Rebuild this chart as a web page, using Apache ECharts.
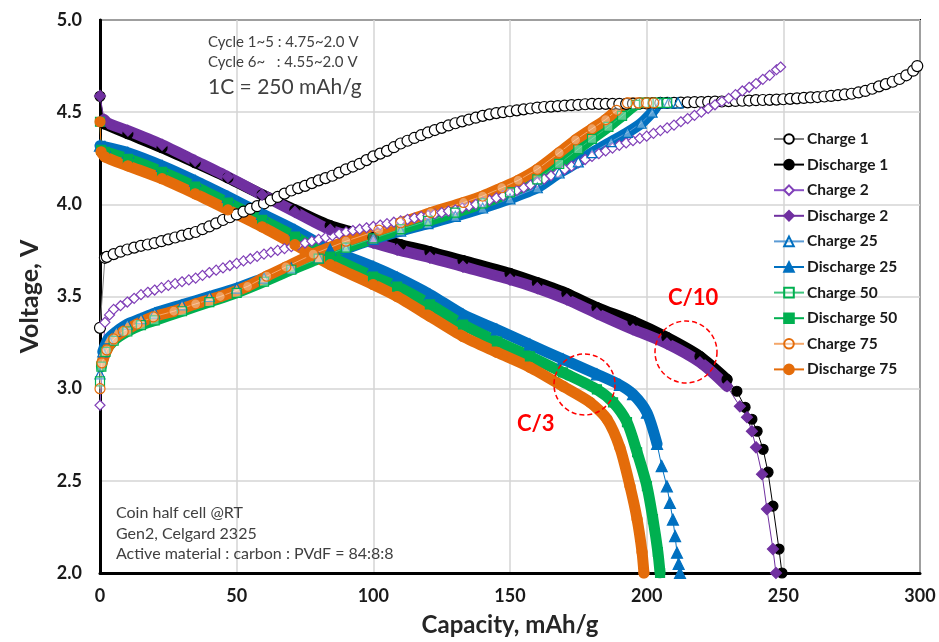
<!DOCTYPE html>
<html><head><meta charset="utf-8">
<script src="https://cdn.jsdelivr.net/npm/echarts@6/dist/echarts.min.js"></script>
<style>html,body{margin:0;padding:0;background:#fff}#c{width:939px;height:642px}</style>
</head><body><div id="c"></div>
<script>
// ---- data: [capacity mAh/g, voltage V] ----
const xTicks = [0, 50, 100, 150, 200, 250, 300];
const yTicks = [2.0, 2.5, 3.0, 3.5, 4.0, 4.5, 5.0];
const seriesNames = ['Charge 1','Discharge 1','Charge 2','Discharge 2','Charge 25','Discharge 25','Charge 50','Discharge 50','Charge 75','Discharge 75'];

const charge1 = [[0,3.33],[1.8,3.71],[2.5,3.715],[5,3.73],[7.5,3.743],[10,3.755],[12.5,3.765],[15,3.775],[17.5,3.782],[20,3.79],[22.5,3.80],[25,3.81],[27.5,3.82],[30,3.83],[32.5,3.84],[35,3.85],[37.5,3.865],[40,3.88],[42.5,3.897],[45,3.915],[47.5,3.93],[50,3.945],[52.5,3.96],[55,3.975],[57.5,3.99],[60,4.005],[62.5,4.022],[65,4.04],[67.5,4.058],[70,4.075],[72.5,4.088],[75,4.10],[77.5,4.115],[80,4.13],[82.5,4.142],[85,4.155],[87.5,4.172],[90,4.19],[92.5,4.205],[95,4.22],[97.5,4.24],[100,4.26],[102.5,4.275],[105,4.29],[107.5,4.31],[110,4.33],[112.5,4.345],[115,4.36],[117.5,4.375],[120,4.39],[122.5,4.403],[125,4.415],[127.5,4.428],[130,4.44],[132.5,4.45],[135,4.46],[137.5,4.47],[140,4.48],[142.5,4.488],[145,4.495],[147.5,4.50],[150,4.505],[152.5,4.51],[155,4.515],[157.5,4.52],[160,4.525],[162.5,4.528],[165,4.53],[167.5,4.533],[170,4.535],[172.5,4.538],[175,4.54],[177.5,4.543],[180,4.545],[182.5,4.545],[185,4.545],[187.5,4.545],[190,4.545],[192.5,4.545],[195,4.546],[197.5,4.547],[200,4.548],[202.5,4.549],[205,4.55],[207.5,4.55],[210,4.55],[212.5,4.552],[215,4.553],[217.5,4.554],[220,4.555],[222.5,4.556],[225,4.557],[227.5,4.558],[230,4.56],[232.5,4.561],[235,4.562],[237.5,4.563],[240,4.565],[242.5,4.566],[245,4.567],[247.5,4.568],[250,4.57],[252.5,4.572],[255,4.575],[257.5,4.577],[260,4.58],[262.5,4.582],[265,4.585],[267.5,4.588],[270,4.592],[272.5,4.596],[275,4.60],[277.5,4.607],[280,4.615],[282.5,4.627],[285,4.64],[287.5,4.652],[290,4.665],[292.5,4.68],[295,4.70],[297.5,4.725],[299,4.75]];
const discharge1 = [[0,4.586],[1.5,4.437],[10.2,4.383],[22.7,4.307],[34.8,4.226],[46.8,4.144],[59.3,4.052],[71.3,3.970],[84.2,3.884],[99.9,3.820],[110,3.781],[120.7,3.743],[132.8,3.695],[150,3.625],[160,3.575],[170.8,3.516],[181.8,3.440],[195,3.365],[207.4,3.278],[219.5,3.175],[229.4,3.050],[233,2.986],[236,2.899],[238.5,2.834],[240.4,2.769],[242.6,2.671],[244.4,2.547],[246.2,2.363],[248.4,2.130],[249.5,2.0]];
const charge2 = [[0,2.91],[1.8,3.36],[3.5,3.40],[5,3.43],[7.5,3.45],[10,3.47],[12.5,3.49],[15,3.51],[17.5,3.523],[20,3.535],[22.5,3.548],[25,3.56],[27.5,3.57],[30,3.58],[32.5,3.59],[35,3.60],[37.5,3.615],[40,3.63],[42.5,3.643],[45,3.655],[47.5,3.668],[50,3.68],[52.5,3.693],[55,3.705],[57.5,3.718],[60,3.73],[62.5,3.74],[65,3.75],[67.5,3.76],[70,3.77],[72.5,3.78],[75,3.79],[77.5,3.80],[80,3.81],[82.5,3.82],[85,3.83],[87.5,3.84],[90,3.85],[92.5,3.858],[95,3.865],[97.5,3.873],[100,3.88],[102.5,3.888],[105,3.895],[107.5,3.903],[110,3.91],[112.5,3.918],[115,3.925],[117.5,3.933],[120,3.94],[122.5,3.948],[125,3.955],[127.5,3.963],[130,3.97],[132.5,3.98],[135,3.99],[137.5,4.00],[140,4.01],[142.5,4.022],[145,4.035],[147.5,4.047],[150,4.06],[152.5,4.075],[155,4.09],[157.5,4.105],[160,4.12],[162.5,4.137],[165,4.155],[167.5,4.172],[170,4.19],[172.5,4.207],[175,4.225],[177.5,4.243],[180,4.26],[182.5,4.275],[185,4.29],[187.5,4.305],[190,4.32],[192.5,4.333],[195,4.345],[197.5,4.358],[200,4.37],[202.5,4.385],[205,4.40],[207.5,4.415],[210,4.43],[212.5,4.448],[215,4.465],[217.5,4.483],[220,4.50],[222.5,4.52],[225,4.54],[227.5,4.558],[230,4.575],[232.5,4.595],[235,4.615],[237.5,4.635],[240,4.655],[242.5,4.678],[245,4.70],[247.5,4.73],[249,4.745]];
const discharge2 = [[0,4.588],[1.5,4.46],[3,4.44],[10.2,4.40],[22.7,4.323],[34.8,4.236],[46.8,4.149],[59.3,4.052],[71.3,3.959],[84.2,3.862],[99.9,3.792],[108.7,3.754],[120.7,3.711],[132.8,3.662],[150,3.592],[160,3.545],[170.8,3.484],[181.8,3.408],[195,3.321],[207.4,3.245],[219.5,3.143],[229.4,3.013],[234.1,2.904],[236.7,2.845],[238.5,2.769],[240,2.682],[242.2,2.536],[244,2.347],[246.2,2.130],[247.3,2.0]];
const charge25 = [[0,3.08],[1,3.20],[3,3.27],[6,3.31],[10,3.35],[15,3.38],[20,3.41],[30,3.455],[40,3.50],[50,3.545],[60,3.60],[70,3.655],[80,3.71],[90,3.76],[100,3.81],[110,3.855],[120,3.895],[130,3.935],[140,3.98],[150,4.03],[160,4.09],[168,4.17],[175,4.23],[180,4.28],[187,4.34],[193,4.39],[198,4.44],[202,4.50],[205,4.55],[208,4.55],[211.5,4.55]];
const discharge25 = [[0,4.318],[1.8,4.312],[10.2,4.280],[22.7,4.209],[34.8,4.128],[46.8,4.041],[59.3,3.948],[71.3,3.860],[84.2,3.754],[99.9,3.662],[108.7,3.603],[120.7,3.511],[132.8,3.402],[145.2,3.321],[157.3,3.240],[169.4,3.159],[181.8,3.078],[190.2,3.02],[195,2.97],[200.1,2.87],[203.8,2.70],[205.5,2.58],[207.4,2.47],[208.5,2.38],[209.6,2.29],[210.4,2.20],[211.1,2.11],[211.7,2.05],[212.2,2.0]];
const charge50 = [[0,3.04],[0.5,3.12],[2,3.20],[5,3.26],[10,3.31],[15,3.345],[20,3.37],[30,3.42],[40,3.47],[50,3.52],[60,3.58],[70,3.645],[80,3.705],[90,3.765],[100,3.815],[110,3.865],[120,3.91],[130,3.955],[140,4.005],[150,4.065],[160,4.135],[168,4.22],[175,4.30],[180,4.355],[186,4.42],[191,4.48],[196,4.54],[199,4.55],[204,4.55],[207.5,4.55]];
const discharge50 = [[0,4.448],[0.4,4.296],[1.8,4.285],[10.2,4.247],[22.7,4.176],[34.8,4.096],[46.8,4.009],[59.3,3.916],[71.3,3.825],[84.2,3.716],[99.9,3.608],[108.7,3.554],[120.7,3.457],[132.8,3.348],[145.2,3.256],[157.3,3.175],[169.4,3.088],[181.8,2.996],[187.7,2.926],[192.8,2.818],[196.5,2.655],[200.1,2.471],[202.3,2.292],[204.1,2.114],[204.9,2.0]];
const charge75 = [[0,3.00],[0.7,3.14],[2.5,3.21],[5,3.27],[8.5,3.31],[13.5,3.35],[19.5,3.39],[27,3.42],[35,3.46],[44,3.50],[54,3.555],[61,3.61],[68,3.66],[78,3.73],[90,3.80],[102,3.86],[110,3.90],[121,3.955],[133,4.01],[140,4.045],[147,4.09],[153,4.13],[160,4.19],[168,4.28],[174,4.35],[180,4.41],[185,4.46],[189,4.51],[193,4.55],[197,4.55],[200,4.55],[202.6,4.55]];
const discharge75 = [[0,4.448],[0.4,4.285],[1.8,4.258],[10.2,4.209],[22.7,4.139],[34.8,4.057],[46.8,3.970],[59.3,3.878],[71.3,3.781],[84.2,3.673],[99.9,3.565],[108.7,3.500],[120.7,3.392],[132.8,3.283],[145.2,3.197],[157.3,3.116],[169.4,3.013],[179.3,2.926],[185.5,2.834],[190.2,2.68],[193.9,2.471],[196.5,2.292],[198.3,2.114],[199,2.0]];

// ---- styling ----
const FONT = 'Lato, "Open Sans", sans-serif';
const chart = echarts.init(document.getElementById('c'), null, {renderer: 'canvas'});

function mainSeries(name, data, symbol, size, lineColor, fill, border, lw) {
  return {
    name, type: 'line', data, symbol, symbolSize: size, showAllSymbol: true,
    lineStyle: {color: lineColor, width: lw || 1},
    itemStyle: {color: fill, borderColor: border, borderWidth: 1.2},
    emphasis: {disabled: true}, animation: false
  };
}
function band(data, color, width) {
  return {
    type: 'line', data, showSymbol: false, silent: true, legendHoverLink: false, smooth: 0.25,
    lineStyle: {color, width, cap: 'round', join: 'round'},
    emphasis: {disabled: true}, animation: false, tooltip: {show: false}
  };
}

const BLUE = '#0070C0', GREEN = '#00B050', ORANGE = '#E46C0A', PURPLE = '#7030A0';
const openFill = 'rgba(255,255,255,0.35)';

const series = [
  mainSeries('Charge 1', charge1, 'circle', 11, '#7f7f7f', '#ffffff', '#000000'),
  band(discharge1.slice(1, 21), '#000000', 11),
  mainSeries('Discharge 1', discharge1, 'circle', 10, '#000000', '#000000', '#000000'),
  mainSeries('Charge 2', charge2, 'diamond', 10, '#8c52c7', '#ffffff', '#8040B8'),
  band(discharge2.slice(1, 22), PURPLE, 11),
  mainSeries('Discharge 2', discharge2, 'diamond', 11, PURPLE, PURPLE, PURPLE),
  band(charge25.slice(1), BLUE, 11),
  mainSeries('Charge 25', charge25, 'triangle', 10, '#5B9BD5', openFill, BLUE),
  band(discharge25.slice(0, 21), BLUE, 11),
  mainSeries('Discharge 25', discharge25, 'triangle', 11, BLUE, BLUE, BLUE),
  band(charge50.slice(1), GREEN, 11),
  mainSeries('Charge 50', charge50, 'rect', 9, '#3cc47c', openFill, GREEN),
  band(discharge50.slice(1), GREEN, 11),
  mainSeries('Discharge 50', discharge50, 'rect', 9, GREEN, GREEN, GREEN),
  band(charge75.slice(1), ORANGE, 11),
  mainSeries('Charge 75', charge75, 'circle', 10, '#F4A76A', openFill, ORANGE),
  band(discharge75.slice(1), ORANGE, 11),
  mainSeries('Discharge 75', discharge75, 'circle', 10, ORANGE, ORANGE, ORANGE)
];

const txt = (text, x, y, size, weight, color) => ({
  type: 'text', x, y, silent: true, z: 100,
  style: {text, fill: color || '#404040', font: (weight || 'normal') + ' ' + size + 'px ' + FONT, verticalAlign: 'middle', align: 'left'}
});

chart.setOption({
  backgroundColor: '#fff',
  animation: false,
  grid: {left: 100, top: 20, width: 820, height: 554, show: true, borderColor: '#000', borderWidth: 2, backgroundColor: 'transparent'},
  xAxis: {
    type: 'value', min: xTicks[0], max: xTicks[xTicks.length - 1], interval: 50,
    name: 'Capacity, mAh/g', nameLocation: 'middle', nameGap: 40,
    nameTextStyle: {fontFamily: FONT, fontWeight: 'bold', fontSize: 24, color: '#262626'},
    axisLine: {show: true, lineStyle: {color: '#000', width: 3}},
    axisTick: {show: false},
    axisLabel: {margin: 14, fontFamily: FONT, fontWeight: 'bold', fontSize: 18, color: '#1a1a1a'},
    splitLine: {show: true, lineStyle: {color: '#d4d4d4', width: 1.5}}
  },
  yAxis: {
    type: 'value', min: yTicks[0], max: yTicks[yTicks.length - 1], interval: 0.5,
    name: 'Voltage, V', nameLocation: 'middle', nameGap: 58, nameRotate: 90,
    nameTextStyle: {fontFamily: FONT, fontWeight: 'bold', fontSize: 25, color: '#262626'},
    axisLine: {show: true, lineStyle: {color: '#000', width: 3}},
    axisTick: {show: false},
    axisLabel: {margin: 18, fontFamily: FONT, fontWeight: 'bold', fontSize: 18, color: '#1a1a1a', formatter: v => v.toFixed(1)},
    splitLine: {show: true, lineStyle: {color: '#d4d4d4', width: 1.5}}
  },
  legend: {
    data: seriesNames, orient: 'vertical', left: 768, top: 126,
    itemWidth: 30, itemHeight: 12, itemGap: 9.6, selectedMode: false,
    textStyle: {fontFamily: FONT, fontWeight: 'bold', fontSize: 15.5, color: '#1a1a1a', padding: [0, 0, 0, -2]}
  },
  series,
  graphic: [
    txt('Cycle 1~5 : 4.75~2.0 V', 208, 42, 15),
    txt('Cycle 6~   : 4.55~2.0 V', 208, 62, 15),
    txt('1C = 250 mAh/g', 208, 87, 21),
    txt('Coin half cell @RT', 116, 513, 16),
    txt('Gen2, Celgard 2325', 116, 534, 16),
    txt('Active material : carbon : PVdF = 84:8:8', 116, 554, 16),
    txt('C/10', 668, 298, 22, 'bold', '#FF0000'),
    txt('C/3', 517, 424, 22, 'bold', '#FF0000'),
    {type: 'circle', z: 100, silent: true, shape: {cx: 686, cy: 352, r: 31}, style: {fill: 'none', stroke: '#FF0000', lineWidth: 1.5, lineDash: [5, 3]}},
    {type: 'circle', z: 100, silent: true, shape: {cx: 584.5, cy: 384.5, r: 30.5}, style: {fill: 'none', stroke: '#FF0000', lineWidth: 1.5, lineDash: [5, 3]}}
  ]
});
</script></body></html>
